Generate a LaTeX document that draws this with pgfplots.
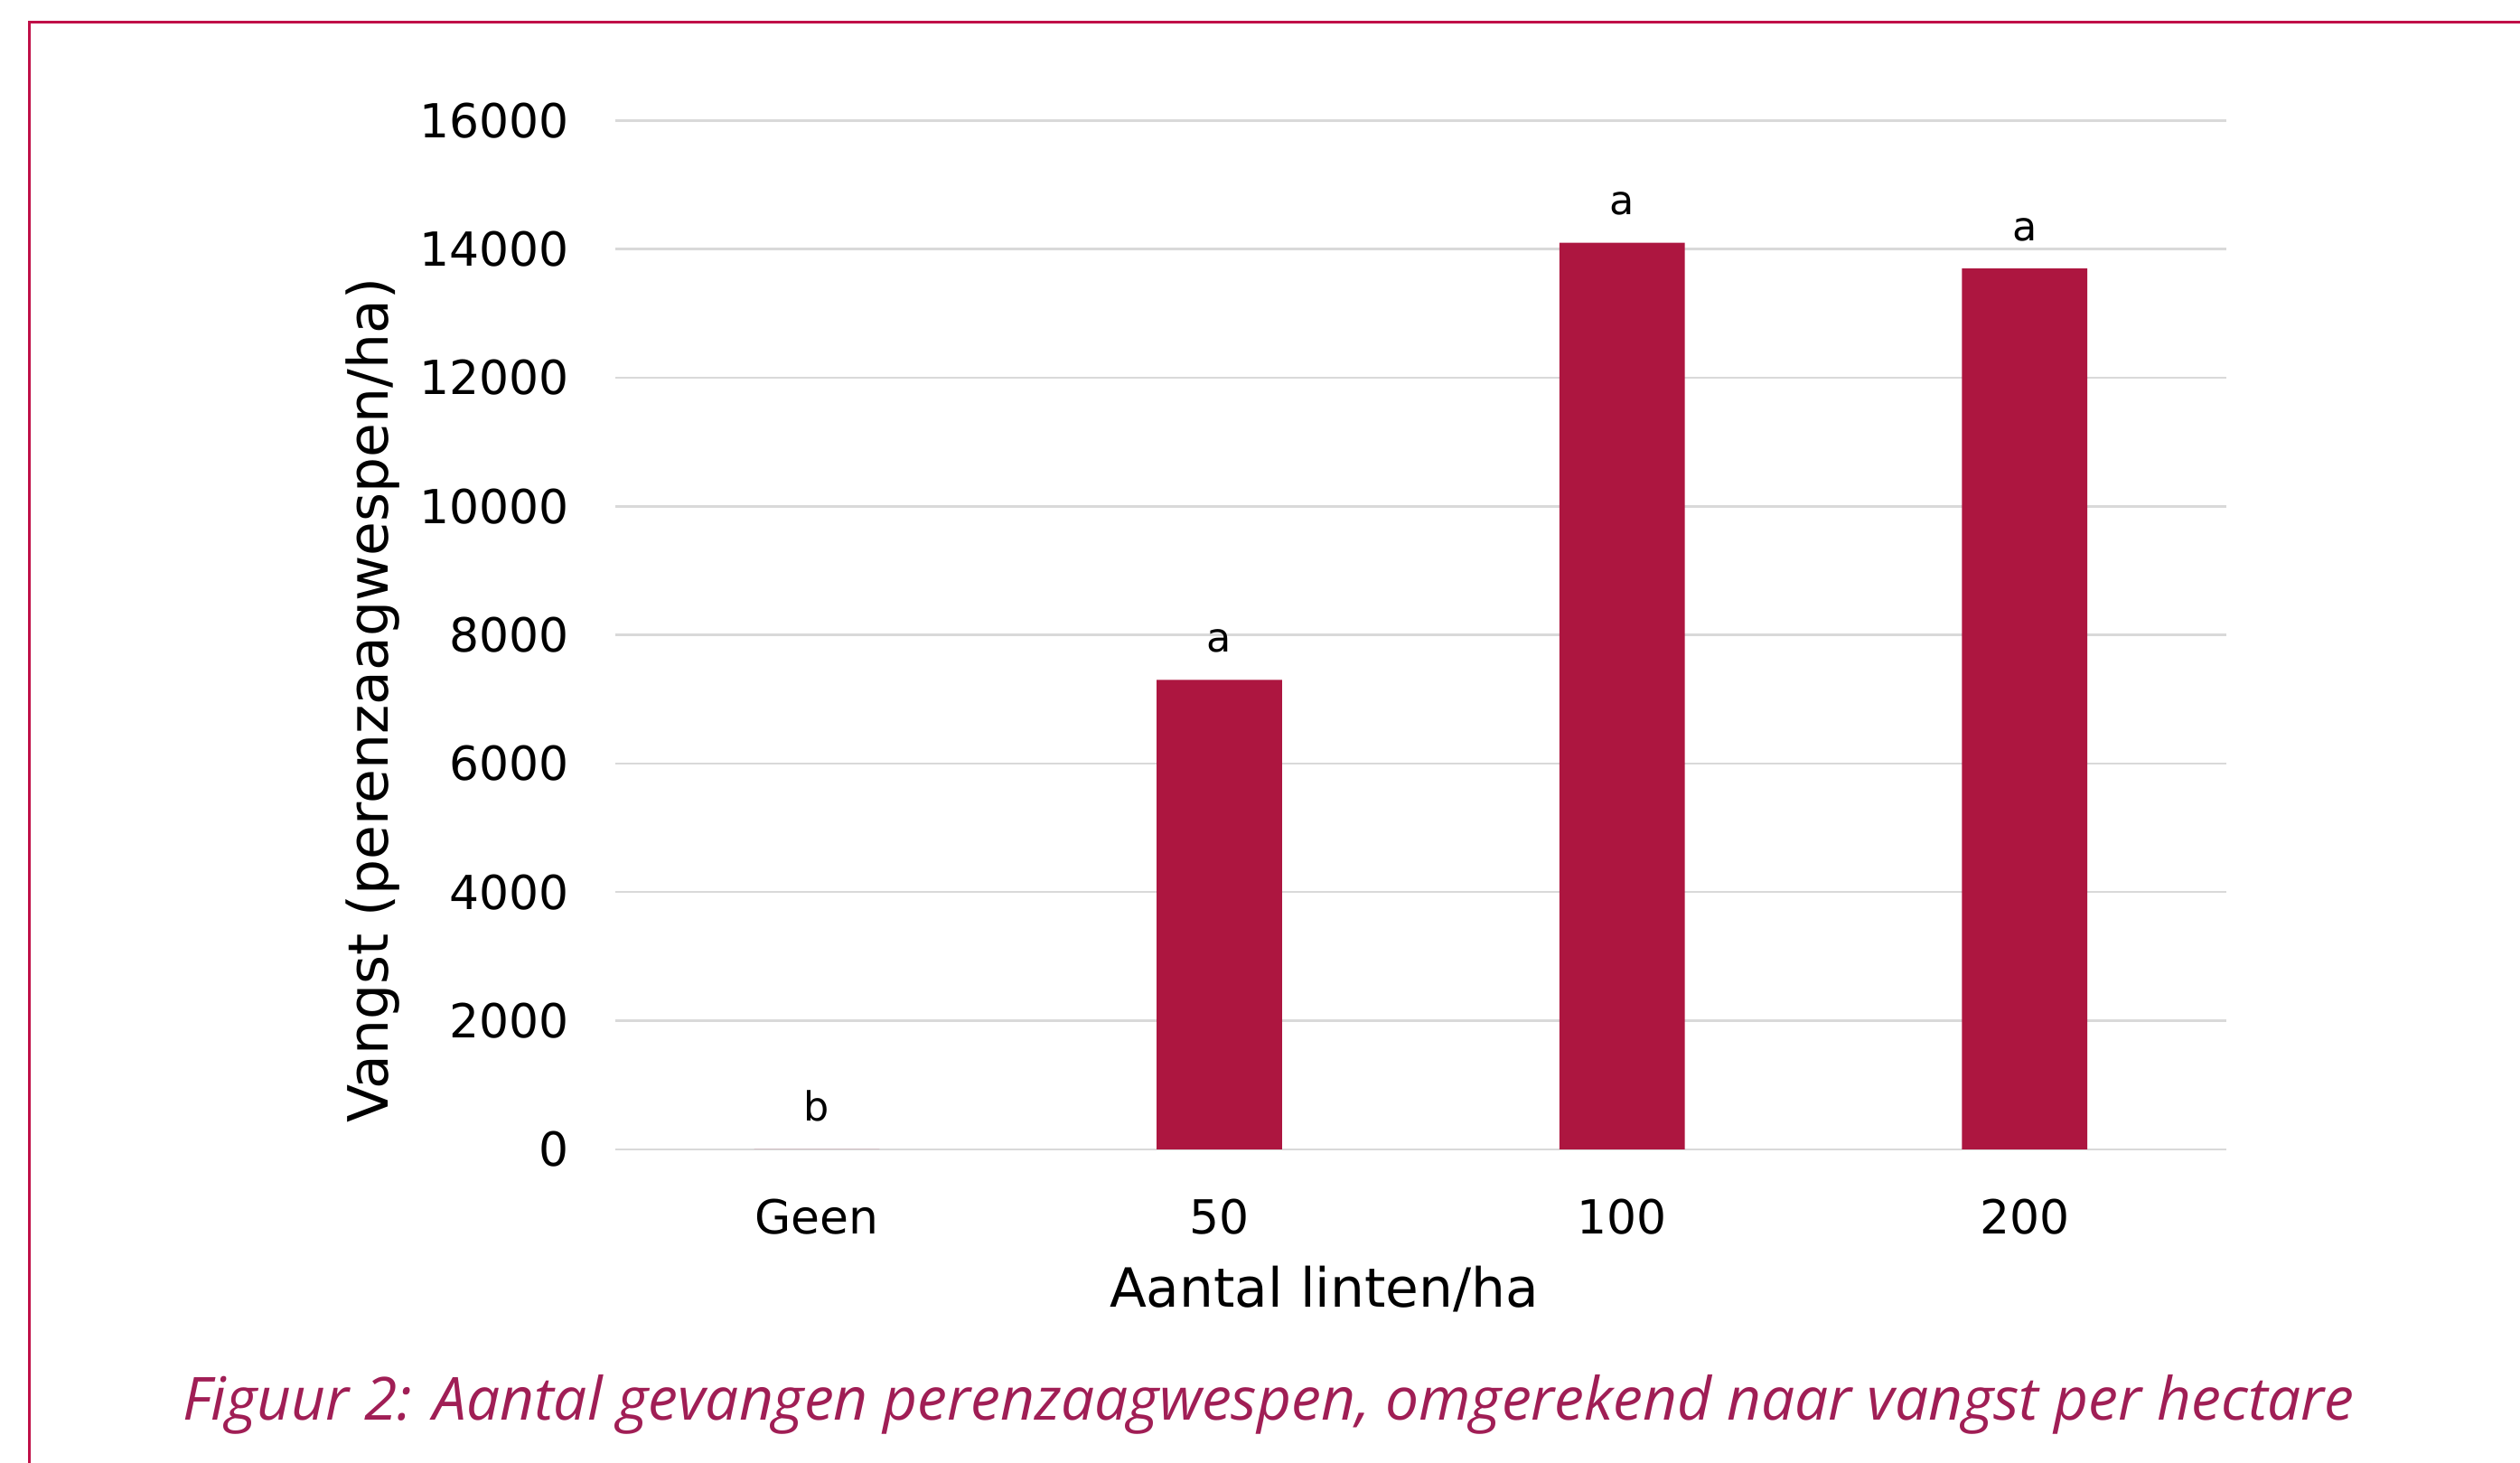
\documentclass[border=0pt]{standalone}
\usepackage{pgfplots}
\pgfplotsset{compat=1.18}
\usepackage{fontspec}
\setmainfont{DejaVu Sans}
\newfontfamily\capfont{Open Sans}
\definecolor{barred}{RGB}{173,22,64}
\definecolor{framered}{RGB}{192,16,72}
\definecolor{capred}{RGB}{160,30,85}
\definecolor{gridgray}{RGB}{217,217,217}
\begin{document}
\begin{tikzpicture}
\useasboundingbox (0pt,0pt) rectangle (784pt,-455pt);
\draw[framered, line width=0.85pt] (9pt,-460pt) -- (9pt,-7pt) -- (790pt,-7pt);
\begin{axis}[
  at={(191.5pt,-357.5pt)}, anchor=south west,
  scale only axis, width=501pt, height=320pt,
  xmin=-0.5, xmax=3.5, ymin=0, ymax=16000,
  axis line style={draw=none},
  major tick length=0pt,
  xtick=data,
  xticklabels={Geen,50,100,200},
  ytick={0,2000,...,16000},
  ymajorgrids, grid style={gridgray, line width=0.7pt},
  scaled y ticks=false,
  /pgf/number format/assume math mode=true,
  yticklabel={\pgfmathprintnumber[fixed,1000 sep={}]{\tick}},
  ticklabel style={font=\fontsize{14.6}{17}\selectfont},
  yticklabel style={xshift=-11pt},
  xticklabel style={yshift=-12pt},
  xlabel={Aantal linten/ha},
  ylabel={Vangst (perenzaagwespen/ha)},
  xlabel style={font=\fontsize{16.8}{19}\selectfont, at={(axis description cs:0.44,0)}, anchor=center, yshift=-43.5pt},
  ylabel style={font=\fontsize{17.3}{19}\selectfont, at={(axis description cs:-0.1507,0.436)}, anchor=center},
  nodes near coords,
  point meta=explicit symbolic,
  every node near coord/.append style={font=\fontsize{12.5}{14}\selectfont, black, yshift=5pt},
]
\addplot[ybar, bar width=39pt, fill=barred, draw=none] coordinates {
  (0,0) [b]
  (1,7300) [a]
  (2,14100) [a]
  (3,13700) [a]
};
\end{axis}
\node[capred, font=\capfont\itshape\fontsize{18.5}{22}\selectfont] at (394.75pt,-437pt) {Figuur 2: Aantal gevangen perenzaagwespen, omgerekend naar vangst per hectare};
\end{tikzpicture}
\end{document}
